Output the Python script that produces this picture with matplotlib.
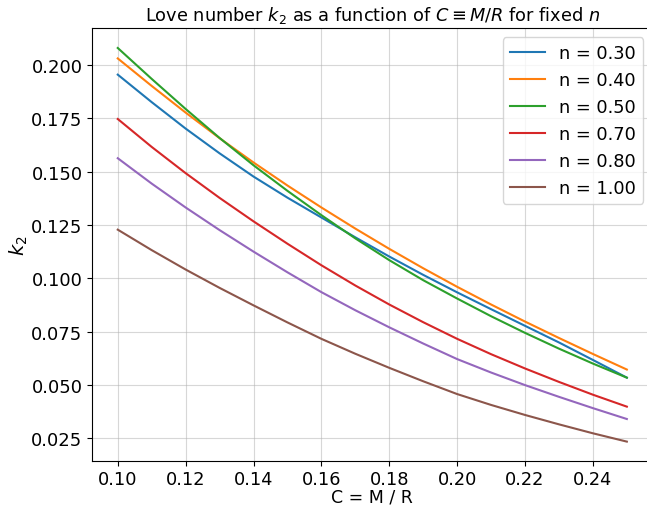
import matplotlib
matplotlib.use('Agg')
import matplotlib.pyplot as plt
import numpy as np

# compactness C = M/R
C = [0.10, 0.11, 0.12, 0.13, 0.14, 0.15, 0.16, 0.17,
     0.18, 0.19, 0.20, 0.21, 0.22, 0.23, 0.24, 0.25]

n_values = [0.30, 0.40, 0.50, 0.70, 0.80, 1.00]

k2_n030 = [0.1955, 0.1826, 0.1702, 0.1586, 0.1477, 0.1378, 0.1285, 0.1192,
           0.1102, 0.1016, 0.0934, 0.0855, 0.0777, 0.0699, 0.0617, 0.0534]
k2_n040 = [0.2031, 0.1902, 0.1777, 0.1657, 0.1543, 0.1435, 0.1332, 0.1233,
           0.1138, 0.1047, 0.0960, 0.0877, 0.0797, 0.0720, 0.0645, 0.0572]
k2_n050 = [0.2080, 0.1935, 0.1794, 0.1658, 0.1530, 0.1410, 0.1296, 0.1187,
           0.1085, 0.0991, 0.0905, 0.0822, 0.0744, 0.0670, 0.0600, 0.0534]
k2_n070 = [0.1747, 0.1616, 0.1493, 0.1377, 0.1267, 0.1162, 0.1061, 0.0966,
           0.0877, 0.0794, 0.0716, 0.0644, 0.0577, 0.0514, 0.0454, 0.0398]
k2_n080 = [0.1563, 0.1444, 0.1332, 0.1226, 0.1125, 0.1028, 0.0935, 0.0850,
           0.0770, 0.0694, 0.0621, 0.0558, 0.0499, 0.0444, 0.0391, 0.0340]
k2_n100 = [0.1228, 0.1132, 0.1041, 0.0955, 0.0873, 0.0793, 0.0716, 0.0646,
           0.0580, 0.0517, 0.0457, 0.0406, 0.0359, 0.0315, 0.0273, 0.0234]

series = [k2_n030, k2_n040, k2_n050, k2_n070, k2_n080, k2_n100]

fig = plt.figure(figsize=(6.47, 5.06), dpi=100)
ax = fig.add_axes([92.3 / 647, (506 - 462.3) / 506, 560 / 647, 433 / 506])

for n, k2 in zip(n_values, series):
    ax.plot(C, k2, '-', linewidth=1.5, label=f'n = {n:.2f}')

ax.grid(True, alpha=0.5)
ax.set_xlabel('C = M / R', fontsize=12.5, labelpad=0)
ax.set_ylabel(r'$k_2$', fontsize=14, labelpad=1)
ax.set_title(r'Love number $k_2$ as a function of $C \equiv M/R$ for fixed $n$', fontsize=12.8)
ax.tick_params(labelsize=13)
ax.tick_params(axis='x', labelsize=12.8, pad=2.5)
ax.legend(loc='upper right', fontsize=12.8)

fig.savefig('out.png', dpi=100)
